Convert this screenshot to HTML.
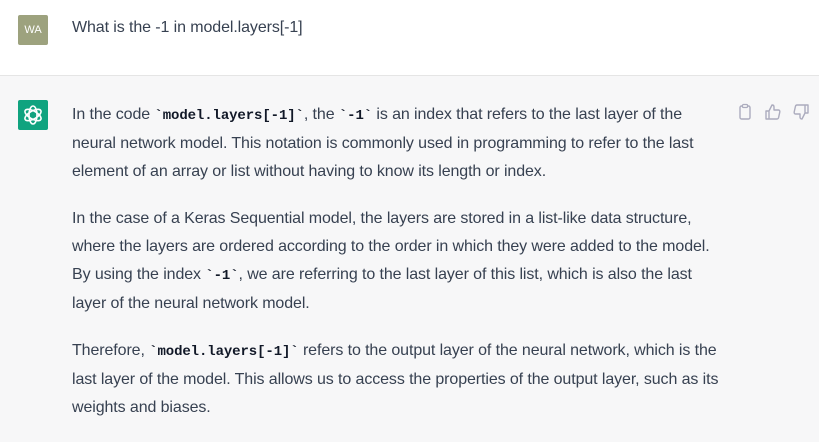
<!DOCTYPE html>
<html><head><meta charset="utf-8"><style>
body{margin:0;width:819px;height:442px;overflow:hidden;background:#f7f7f8;font-family:"Liberation Sans",sans-serif;color:#374151;}
.top{position:absolute;left:0;top:0;width:819px;height:75px;background:#fff;border-bottom:1px solid #e5e5e5;}
.av{position:absolute;left:18px;width:30px;height:30px;border-radius:2px;}
.wa{top:15px;background:#9da27e;color:#fff;font-size:11px;text-align:center;line-height:30px;}
.gpt{top:100px;background:#10a37f;}
.t{position:absolute;left:72px;font-size:16px;line-height:28px;white-space:nowrap;letter-spacing:-0.1px;}
code{font-family:"Liberation Mono",monospace;font-weight:bold;font-size:14px;color:#111827;}
.ic{position:absolute;top:103px;}
</style></head><body>
<div class="top">
<div class="av wa">WA</div>
<div class="t" style="top:14px">What is the -1 in model.layers[-1]</div>
</div>
<div class="av gpt"><svg width="30" height="30" viewBox="0 0 30 30"><g fill="none" stroke="#fff" stroke-width="1.6"><ellipse cx="15" cy="15" rx="4" ry="9"/><ellipse cx="15" cy="15" rx="4" ry="9" transform="rotate(60 15 15)"/><ellipse cx="15" cy="15" rx="4" ry="9" transform="rotate(120 15 15)"/></g></svg></div>
<div class="t" style="top:101px">In the code <code>`model.layers[-1]`</code>, the <code>`-1`</code> is an index that refers to the last layer of the<br>neural network model. This notation is commonly used in programming to refer to the last<br>element of an array or list without having to know its length or index.</div>
<div class="t" style="top:205px">In the case of a Keras Sequential model, the layers are stored in a list-like data structure,<br>where the layers are ordered according to the order in which they were added to the model.<br>By using the index <code>`-1`</code>, we are referring to the last layer of this list, which is also the last<br>layer of the neural network model.</div>
<div class="t" style="top:337px">Therefore, <code>`model.layers[-1]`</code> refers to the output layer of the neural network, which is the<br>last layer of the model. This allows us to access the properties of the output layer, such as its<br>weights and biases.</div>
<svg class="ic" style="left:736px" width="18" height="18" viewBox="0 0 18 18"><rect x="4" y="3" width="10" height="13" rx="1.5" fill="none" stroke="#acacbe" stroke-width="1.4"/><rect x="6.5" y="1.5" width="5" height="3" rx="1" fill="#f7f7f8" stroke="#acacbe" stroke-width="1.2"/></svg>
<svg class="ic" style="left:764px" width="18" height="18" viewBox="0 0 18 18"><path d="M2 8h3v8H2zM5 8l3-6c1.5 0 2 1 2 2v3h4.5c1 0 1.5 1 1.3 2l-1.2 5.5c-.2.8-.8 1.5-1.6 1.5H5" fill="none" stroke="#acacbe" stroke-width="1.4" stroke-linejoin="round"/></svg>
<svg class="ic" style="left:792px" width="18" height="18" viewBox="0 0 18 18"><g transform="rotate(180 9 9)"><path d="M2 8h3v8H2zM5 8l3-6c1.5 0 2 1 2 2v3h4.5c1 0 1.5 1 1.3 2l-1.2 5.5c-.2.8-.8 1.5-1.6 1.5H5" fill="none" stroke="#acacbe" stroke-width="1.4" stroke-linejoin="round"/></g></svg>
</body></html>
